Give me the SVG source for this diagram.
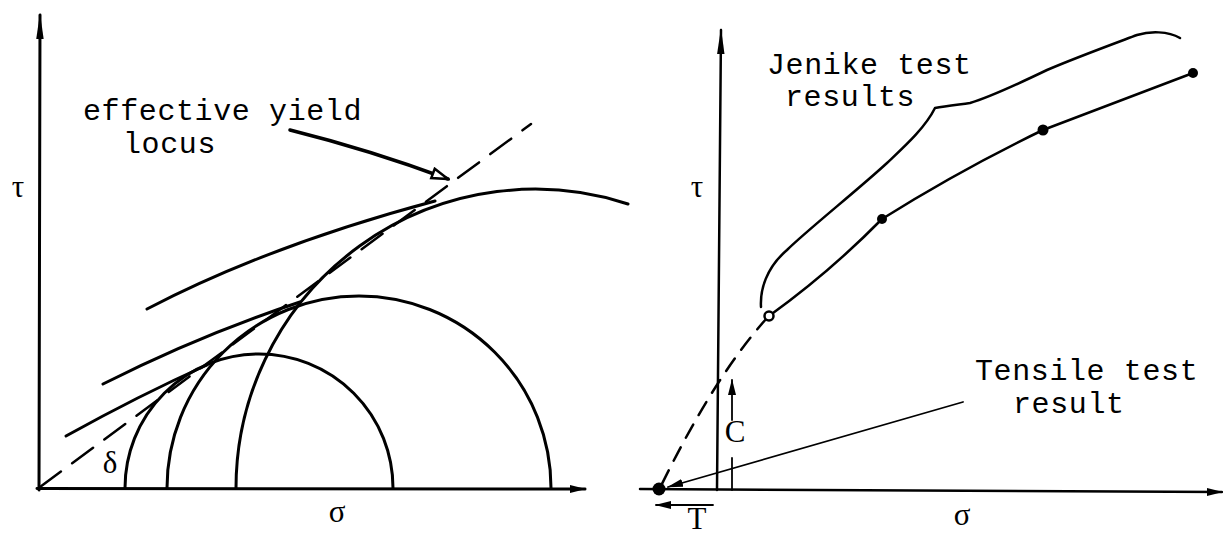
<svg xmlns="http://www.w3.org/2000/svg" width="1223" height="537" viewBox="0 0 1223 537">
<style>
.ln{fill:none;stroke:#000;stroke-linecap:round;stroke-linejoin:round}
.thick{stroke-width:3}
.med{stroke-width:2.5}
.thin{stroke-width:1.8}
.dash{stroke-dasharray:26 14}
.dash2{stroke-dasharray:15 11}
.mono{font-family:"Liberation Mono","DejaVu Sans Mono",monospace;font-size:30px;letter-spacing:0.6px;fill:#000}
.greek{font-family:"Liberation Serif","DejaVu Serif",serif;font-size:31px;fill:#000;text-anchor:middle}
</style>
<defs>
<marker id="axhead" markerUnits="userSpaceOnUse" markerWidth="26" markerHeight="9" refX="24" refY="4.5" orient="auto">
<path d="M0,0.8 L26,4.5 L0,8.2 Z" fill="#000"/>
</marker>
<marker id="smallhead" markerUnits="userSpaceOnUse" markerWidth="16" markerHeight="10" refX="15" refY="5" orient="auto">
<path d="M0,1 L16,5 L0,9 Z" fill="#000"/>
</marker>
<marker id="openhead" markerUnits="userSpaceOnUse" markerWidth="20" markerHeight="14" refX="18" refY="7" orient="auto">
<path d="M2,2 L18,7 L2,12 Z" fill="#fff" stroke="#000" stroke-width="2.5"/>
</marker>
</defs>

<g id="left-axes">
<path class="ln thick" d="M39 490 L40 15" marker-end="url(#axhead)"/>
<path class="ln thick" d="M37 488.5 L585 489" marker-end="url(#smallhead)"/>
</g>

<g id="mohr-circles">
<path class="ln thick" d="M125 488 A134 134 0 0 1 393 488"/>
<path class="ln thick" d="M167 488 A192 192 0 0 1 551 488"/>
<path class="ln thick" d="M236 488 A299 299 0 0 1 628 204"/>
</g>

<g id="yield-loci">
<path class="ln thick" d="M66 436 Q140 395 207 365"/>
<path class="ln thick" d="M103 384 Q200 335 300 302"/>
<path class="ln thick" d="M147 309 Q270 245 435 201"/>
<path class="ln med dash" d="M40 487 L531 124"/>
</g>

<g id="left-connectors">
<path class="ln" stroke-width="3.5" d="M290 130 Q370 150 448 179" marker-end="url(#openhead)"/>
</g>

<g id="left-labels">
<text class="mono" x="83" y="120">effective yield</text>
<text class="mono" x="123" y="153">locus</text>
<text class="greek" x="18" y="197">τ</text>
<text class="greek" x="337" y="522">σ</text>
<text class="greek" x="110" y="473" font-size="25">δ</text>
</g>

<g id="right-axes">
<path class="ln med" d="M717 490 L721 30" marker-end="url(#axhead)"/>
<path class="ln med" d="M640 489 L1222 492" marker-end="url(#smallhead)"/>
</g>

<g id="jenike-bracket">
<path class="ln med" d="M761 307 C760 290 766 268 787 250 C805 232 860 188 887 163 C905 146 925 128 935 108 C945 106 955 105 970 103 C990 97 1020 83 1047 70 C1075 58 1105 47 1137 35 C1150 31 1168 31 1180 38"/>
</g>

<g id="jenike-results">
<path class="ln med" d="M769 316 Q830 272 882 219 Q960 170 1043 130 L1193 73"/>
<path class="ln med dash2" d="M767 318 Q714 377 660 488"/>
<circle cx="769" cy="316" r="4.5" fill="#fff" stroke="#000" stroke-width="2.5"/>
<circle cx="882" cy="219" r="5" fill="#000"/>
<circle cx="1043" cy="130" r="5.5" fill="#000"/>
<circle cx="1193" cy="73" r="5" fill="#000"/>
<circle cx="659" cy="489" r="6.5" fill="#000"/>
</g>

<g id="right-connectors">
<path class="ln thin" d="M963 402 L668 487" marker-end="url(#smallhead)"/>
<path class="ln thin" d="M732 490 L732 458"/>
<path class="ln thin" d="M732 420 L732 380" marker-end="url(#smallhead)"/>
<path class="ln thin" d="M713 505 L656 505" marker-end="url(#smallhead)"/>
</g>

<g id="right-labels">
<text class="mono" x="767" y="74">Jenike test</text>
<text class="mono" x="785" y="106">results</text>
<text class="mono" x="975" y="380">Tensile test</text>
<text class="mono" x="1013" y="413">result</text>
<text class="greek" x="697" y="197">τ</text>
<text class="greek" x="962" y="525">σ</text>
<text class="greek" x="735" y="442" font-size="28">C</text>
<text class="greek" x="697" y="529" font-size="20">T</text>
</g>
</svg>
